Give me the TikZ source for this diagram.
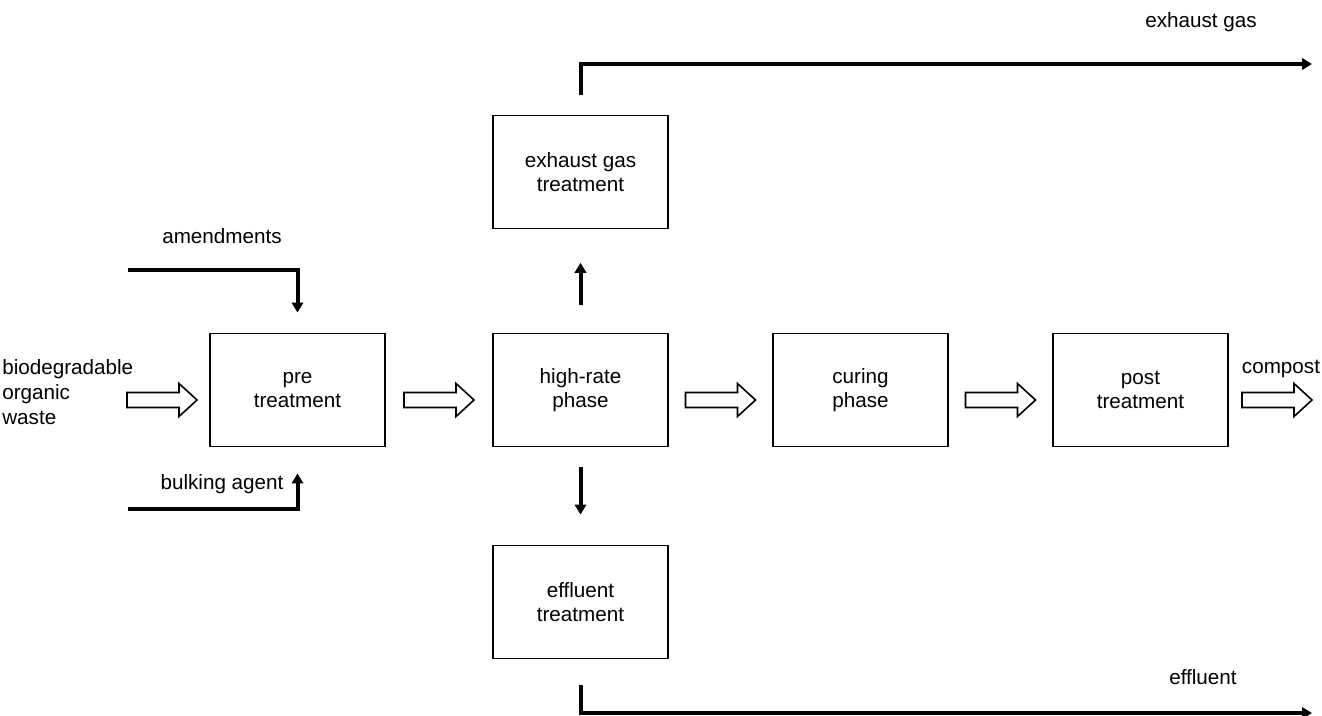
\documentclass[tikz,border=0pt]{standalone}
\usepackage{fontspec}
\setmainfont{Liberation Sans}
\usetikzlibrary{arrows.meta,calc}
\begin{document}
\begin{tikzpicture}[x=0.75pt,y=-0.75pt,
  every node/.style={font=\fontsize{15.5}{18.5}\selectfont},
  box/.style={draw, line width=1.2pt, minimum width=131.25pt, minimum height=85pt, align=center, inner sep=0pt},
  conn/.style={line width=3pt, -{Triangle[length=7.5pt,width=8.5pt]}},
  lbl/.style={inner sep=0pt},
  harrow/.pic={\draw[line width=1.2pt, fill=white] (-35,-7.5) -- (17,-7.5) -- (17,-16.5) -- (35,0) -- (17,16.5) -- (17,7.5) -- (-35,7.5) -- cycle;}
]
\path[use as bounding box] (0,0) rectangle (1322,716);

% boxes
\node[box] (pre) at (297.5,390) {pre\\treatment};
\node[box] (hr) at (580.5,390) {high-rate\\phase};
\node[box] (cur) at (860.5,390) {curing\\phase};
\node[box] (post) at (1140.5,390) {post\\treatment};
\node[box] (egt) at (580.5,172) {exhaust gas\\treatment};
\node[box] (eft) at (580.5,602) {effluent\\treatment};

% labels
\node[lbl] (lexh) at (1201,22) {exhaust gas};
\node[lbl] (lam) at (222,236) {amendments};
\node[lbl] (lbk) at (222,484) {bulking agent};
\node[lbl] (lcomp) at (1281,369) {compost};
\node[lbl] (leff) at (1203,677) {effluent};
\node[lbl, anchor=west, align=left] (lbio) at (2,392) {biodegradable\\organic\\waste};

% hollow arrows
\pic at (162,400) {harrow};
\pic at ($(pre.east)!0.5!(hr.west)+(0,10)$) {harrow};
\pic at ($(hr.east)!0.5!(cur.west)+(0,10)$) {harrow};
\pic at ($(cur.east)!0.5!(post.west)+(0,10)$) {harrow};
\pic at (1277,400) {harrow};

% connectors
\coordinate (amin) at (128,270);
\coordinate (bkin) at (128,509);
\coordinate (egout) at (1312,64);
\coordinate (efout) at (1312,713);
\draw[conn] (amin) -| ([yshift=15pt]pre.north);
\draw[conn] (bkin) -| ([yshift=-19.5pt]pre.south);
\draw[conn] ([yshift=21pt]hr.north) -- ([yshift=-25pt]egt.south);
\draw[conn] ([yshift=-15pt]hr.south) -- ([yshift=22.5pt]eft.north);
\draw[conn] ([yshift=14.5pt]egt.north) |- (egout);
\draw[conn] ([yshift=-19pt]eft.south) |- (efout);
\end{tikzpicture}
\end{document}
